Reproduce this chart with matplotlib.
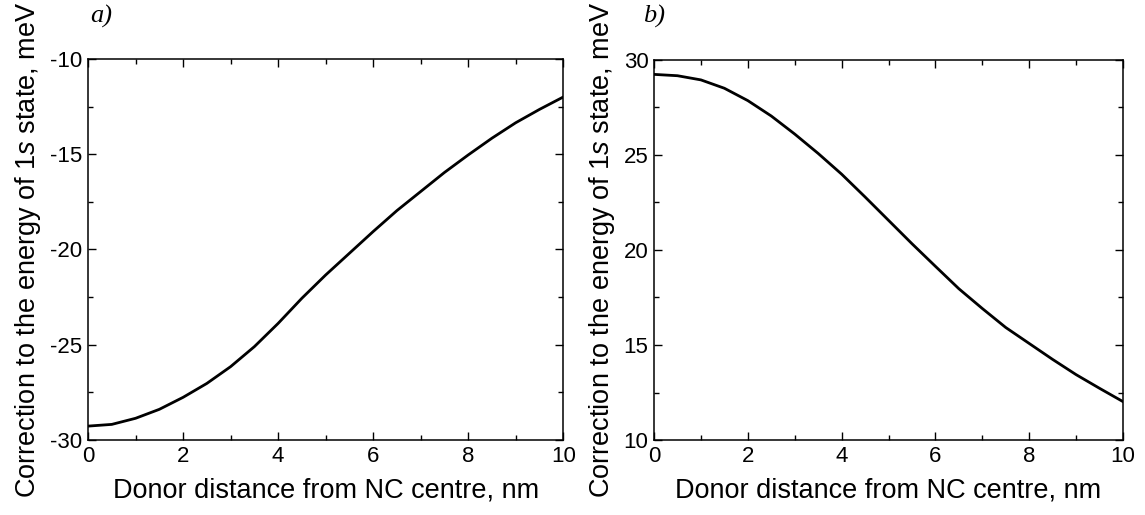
import matplotlib
matplotlib.use('Agg')
import matplotlib.pyplot as plt
from matplotlib.ticker import MultipleLocator
import numpy as np

# donor distance from NC centre, nm
distance = [0, 0.5, 1, 1.5, 2, 2.5, 3, 3.5, 4, 4.5, 5,
            5.5, 6, 6.5, 7, 7.5, 8, 8.5, 9, 9.5, 10]
# correction to 1s energy, meV (panel a and b)
corr_a = [-29.27, -29.18, -28.86, -28.39, -27.76, -27.03, -26.15, -25.10,
          -23.88, -22.56, -21.34, -20.20, -19.06, -17.96, -16.96, -15.96,
          -15.04, -14.16, -13.35, -12.65, -12.0]
corr_b = [29.24, 29.17, 28.95, 28.51, 27.86, 27.05, 26.10, 25.08, 23.99,
          22.79, 21.56, 20.33, 19.14, 17.96, 16.92, 15.92, 15.08, 14.24,
          13.44, 12.72, 12.02]

xlabel = 'Donor distance from NC centre, nm'
ylabel = 'Correction to the energy of 1$\\mathit{s}$ state, meV'

plt.rcParams['font.family'] = ['Liberation Sans', 'DejaVu Sans']
plt.rcParams['mathtext.fontset'] = 'custom'
plt.rcParams['mathtext.rm'] = 'Liberation Sans'
plt.rcParams['mathtext.it'] = 'Liberation Sans:italic'
plt.rcParams['axes.unicode_minus'] = False


def style_axes(ax, ylim, ymajor):
    ax.set_xlim(0, 10)
    ax.set_ylim(*ylim)
    ax.xaxis.set_major_locator(MultipleLocator(2))
    ax.xaxis.set_minor_locator(MultipleLocator(1))
    ax.yaxis.set_major_locator(MultipleLocator(ymajor))
    ax.yaxis.set_minor_locator(MultipleLocator(ymajor / 2))
    ax.tick_params(which='both', direction='in', top=True, right=True,
                   width=1, labelsize=16, pad=4)
    ax.tick_params(which='major', length=6)
    ax.tick_params(which='minor', length=3.5)
    for s in ax.spines.values():
        s.set_linewidth(1.1)
    ax.set_xlabel(xlabel, fontsize=19.5, labelpad=8)
    ax.set_ylabel(ylabel, fontsize=19.5, labelpad=5)


fig = plt.figure(figsize=(11.45, 5.15), dpi=100)
ax1 = fig.add_axes([0.0769, 0.1456, 0.415, 0.740])
ax2 = fig.add_axes([0.5712, 0.1456, 0.4096, 0.738])

ax1.plot(distance, corr_a, color='black', linewidth=2.0)
style_axes(ax1, (-30, -10), 5)
ax2.plot(distance, corr_b, color='black', linewidth=2.0)
style_axes(ax2, (10, 30), 5)

fig.text(0.079, 0.99, 'a)', fontsize=19, family='Liberation Serif', style='italic', va='top')
fig.text(0.562, 0.99, 'b)', fontsize=19, family='Liberation Serif', style='italic', va='top')

fig.savefig('out.png', dpi=100)
